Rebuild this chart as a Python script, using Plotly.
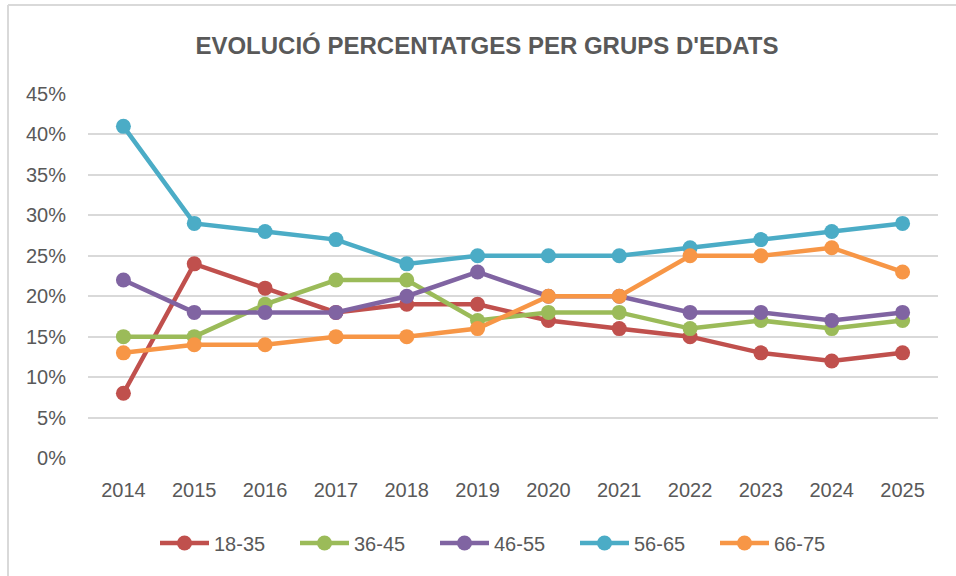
import plotly.graph_objects as go

years = ["2014", "2015", "2016", "2017", "2018", "2019", "2020", "2021", "2022", "2023", "2024", "2025"]
s_18_35 = [8, 24, 21, 18, 19, 19, 17, 16, 15, 13, 12, 13]
s_36_45 = [15, 15, 19, 22, 22, 17, 18, 18, 16, 17, 16, 17]
s_46_55 = [22, 18, 18, 18, 20, 23, 20, 20, 18, 18, 17, 18]
s_56_65 = [41, 29, 28, 27, 24, 25, 25, 25, 26, 27, 28, 29]
s_66_75 = [13, 14, 14, 15, 15, 16, 20, 20, 25, 25, 26, 23]
names = ["18-35", "36-45", "46-55", "56-65", "66-75"]
colors = ["#C0504D", "#9BBB59", "#8064A2", "#4BACC6", "#F79646"]
series = [s_18_35, s_36_45, s_46_55, s_56_65, s_66_75]
yticks = [0, 5, 10, 15, 20, 25, 30, 35, 40, 45]

FONT = "Liberation Sans, Arial, sans-serif"
W, H = 956, 576
L, R, T, B = 88, 18, 94, 118
PW, PH = W - L - R, H - T - B

fig = go.Figure()
for name, col, vals in zip(names, colors, series):
    fig.add_trace(go.Scatter(
        x=years, y=vals, name=name, mode="lines+markers",
        line=dict(color=col, width=4.5),
        marker=dict(color=col, size=15, symbol="circle"),
    ))

fig.update_layout(
    width=W, height=H,
    margin=dict(l=L, r=R, t=T, b=B),
    paper_bgcolor="white", plot_bgcolor="white",
    font=dict(family=FONT, color="#595959", size=20),
    title=dict(text="<b>EVOLUCIÓ PERCENTATGES PER GRUPS D'EDATS</b>",
               x=487 / W, xanchor="center", y=1 - 46 / H, yanchor="middle",
               font=dict(family=FONT, size=24, color="#595959")),
    xaxis=dict(range=[-0.5, 11.5], showgrid=False, zeroline=False, showline=False, ticks="",
               ticklabelstandoff=18, tickfont=dict(size=20, color="#595959")),
    yaxis=dict(range=[0, 45], tickvals=yticks, ticktext=[f"{v}%" for v in yticks],
               showgrid=True, gridcolor="#D9D9D9", gridwidth=2, zeroline=False,
               showline=False, ticks="", ticklabelstandoff=21,
               tickfont=dict(size=20, color="#595959")),
    legend=dict(orientation="h", x=(155 - L) / PW, xanchor="left",
                y=-(543 - (H - B)) / PH, yanchor="middle",
                font=dict(size=20, color="#595959"), itemwidth=49,
                entrywidth=76, entrywidthmode="pixels", tracegroupgap=0),
    shapes=[
        dict(type="line", xref="paper", yref="paper",
             x0=(8 - L) / PW, x1=(8 - L) / PW, y0=-(H - T) / PH, y1=1 + (T - 5) / PH,
             line=dict(color="#D9D9D9", width=2), layer="below"),
        dict(type="line", xref="paper", yref="paper",
             x0=(8 - L) / PW, x1=(W - L) / PW, y0=1 + (T - 5) / PH, y1=1 + (T - 5) / PH,
             line=dict(color="#D9D9D9", width=2), layer="below"),
    ],
    showlegend=True,
)

fig.write_html("out.html", config={"displayModeBar": False},
               post_script="document.body.style.margin='0px';")
